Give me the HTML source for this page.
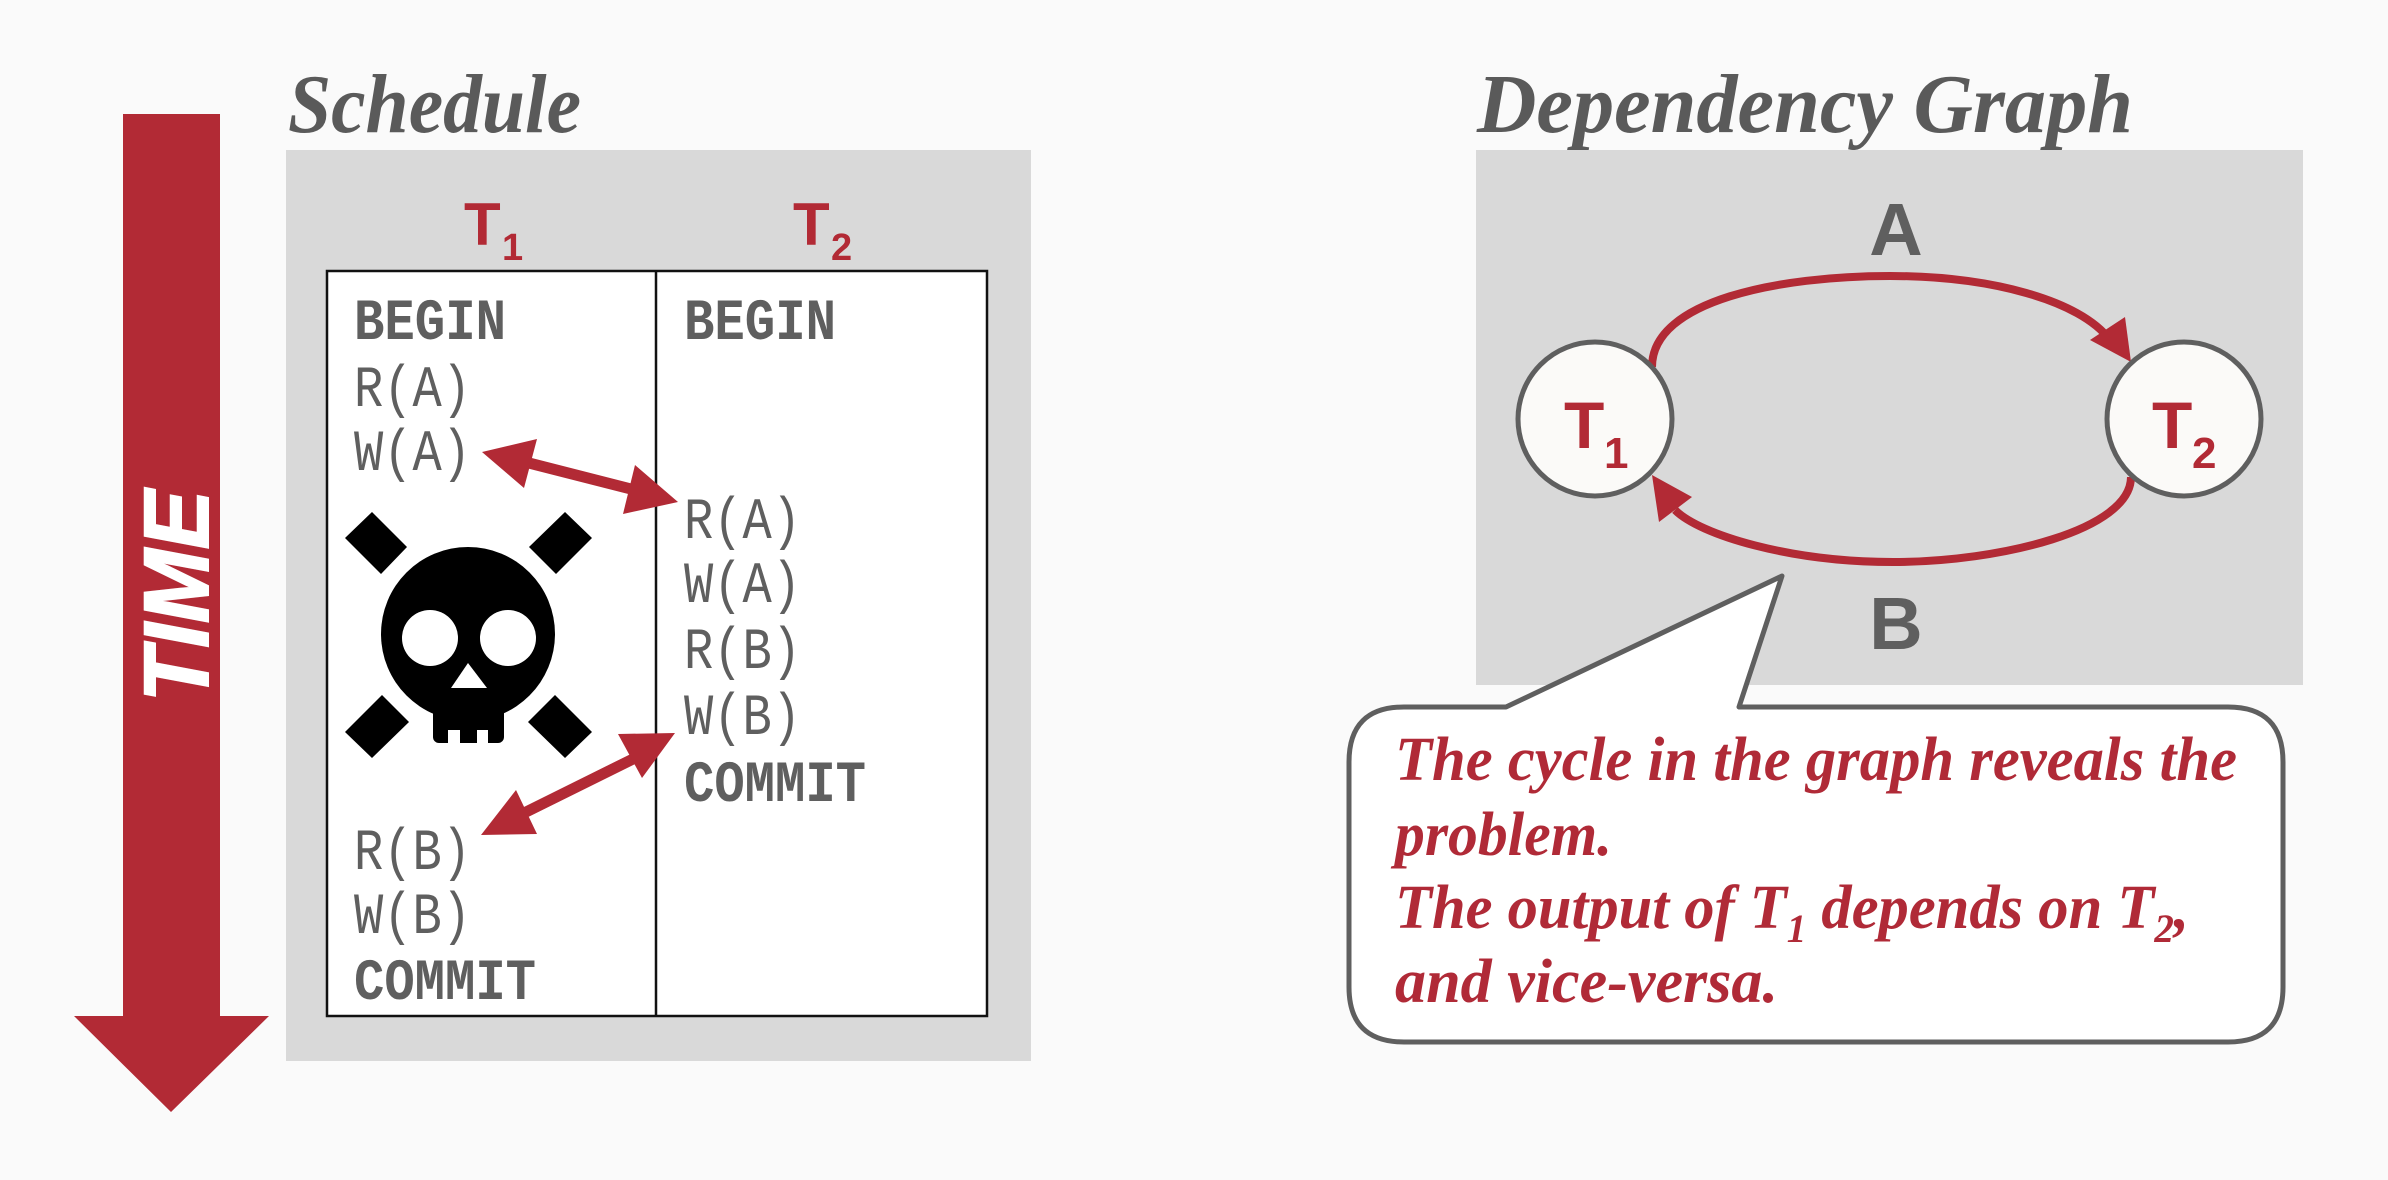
<!DOCTYPE html>
<html><head><meta charset="utf-8"><style>
html,body{margin:0;padding:0;background:#fafafa;}
svg{display:block;}
</style></head><body>
<svg width="2388" height="1180" viewBox="0 0 2388 1180" xmlns="http://www.w3.org/2000/svg">
<rect x="0" y="0" width="2388" height="1180" fill="#fafafa"/>
<!-- TIME arrow -->
<polygon points="123,114 220,114 220,1016 269,1016 171,1112 74,1016 123,1016" fill="#b22a35"/>
<text transform="translate(208,596) rotate(-90)" text-anchor="middle" font-family="Liberation Sans, sans-serif" font-weight="bold" font-style="italic" font-size="92" fill="#ffffff" stroke="#ffffff" stroke-width="2" textLength="212" lengthAdjust="spacingAndGlyphs">TIME</text>

<!-- Schedule -->
<text x="288" y="132" font-family="Liberation Serif, serif" font-weight="bold" font-style="italic" font-size="84" fill="#5a5a5a" textLength="293" lengthAdjust="spacingAndGlyphs">Schedule</text>
<rect x="286" y="150" width="745" height="911" fill="#d9d9d9"/>
<text x="464" y="245" font-family="Liberation Sans, sans-serif" font-weight="bold" font-size="60" fill="#b22a35">T</text>
<text x="502" y="260" font-family="Liberation Sans, sans-serif" font-weight="bold" font-size="38" fill="#b22a35">1</text>
<text x="793" y="245" font-family="Liberation Sans, sans-serif" font-weight="bold" font-size="60" fill="#b22a35">T</text>
<text x="831" y="260" font-family="Liberation Sans, sans-serif" font-weight="bold" font-size="38" fill="#b22a35">2</text>
<rect x="327" y="271" width="660" height="745" fill="#ffffff" stroke="#111" stroke-width="2.5"/>
<line x1="656" y1="271" x2="656" y2="1016" stroke="#111" stroke-width="2.5"/>

<g font-family="Liberation Mono, monospace" font-size="58" fill="#5f5f5f">
<text x="354" y="339" font-weight="bold" textLength="152" lengthAdjust="spacingAndGlyphs">BEGIN</text>
<text x="354" y="406" textLength="117" lengthAdjust="spacingAndGlyphs">R(A)</text>
<text x="354" y="470" textLength="117" lengthAdjust="spacingAndGlyphs">W(A)</text>
<text x="354" y="869" textLength="117" lengthAdjust="spacingAndGlyphs">R(B)</text>
<text x="354" y="933" textLength="117" lengthAdjust="spacingAndGlyphs">W(B)</text>
<text x="354" y="999" font-weight="bold" textLength="182" lengthAdjust="spacingAndGlyphs">COMMIT</text>
<text x="684" y="339" font-weight="bold" textLength="152" lengthAdjust="spacingAndGlyphs">BEGIN</text>
<text x="684" y="538" textLength="117" lengthAdjust="spacingAndGlyphs">R(A)</text>
<text x="684" y="602" textLength="117" lengthAdjust="spacingAndGlyphs">W(A)</text>
<text x="684" y="668" textLength="117" lengthAdjust="spacingAndGlyphs">R(B)</text>
<text x="684" y="734" textLength="117" lengthAdjust="spacingAndGlyphs">W(B)</text>
<text x="684" y="801" font-weight="bold" textLength="182" lengthAdjust="spacingAndGlyphs">COMMIT</text>
</g>

<!-- arrows in schedule -->
<line x1="525" y1="462" x2="635" y2="490" stroke="#b22a35" stroke-width="11"/>
<polygon points="482,452 537,439 524,488" fill="#b22a35"/>
<polygon points="678,502 635,465 623,514" fill="#b22a35"/>
<line x1="520" y1="815" x2="635" y2="758" stroke="#b22a35" stroke-width="11"/>
<polygon points="675,733 618,734 642,778" fill="#b22a35"/>
<polygon points="481,835 516,790 537,834" fill="#b22a35"/>

<!-- skull -->
<polygon points="372,512 407,547 381,574 345,538" fill="#000"/>
<polygon points="565,512 592,538 556,574 529,547" fill="#000"/>
<polygon points="382,695 409,722 372,758 345,732" fill="#000"/>
<polygon points="555,695 592,732 565,758 528,722" fill="#000"/>
<circle cx="468" cy="634" r="95" fill="#fff"/>
<rect x="433" y="690" width="71" height="53" rx="6" fill="#000"/>
<circle cx="468" cy="634" r="87" fill="#000"/>
<rect x="448" y="730" width="12" height="15" fill="#fff"/>
<rect x="477" y="730" width="11" height="15" fill="#fff"/>
<circle cx="430" cy="638" r="28" fill="#fff"/>
<circle cx="508" cy="638" r="28" fill="#fff"/>
<polygon points="468,663 451,688 487,688" fill="#fff"/>

<!-- Dependency graph -->
<text x="1477" y="132" font-family="Liberation Serif, serif" font-weight="bold" font-style="italic" font-size="84" fill="#5a5a5a" textLength="656" lengthAdjust="spacingAndGlyphs">Dependency Graph</text>
<rect x="1476" y="150" width="827" height="535" fill="#d9d9d9"/>
<text x="1896" y="255" text-anchor="middle" font-family="Liberation Sans, sans-serif" font-weight="bold" font-size="74" fill="#5f5f5f">A</text>
<text x="1896" y="649" text-anchor="middle" font-family="Liberation Sans, sans-serif" font-weight="bold" font-size="74" fill="#5f5f5f">B</text>
<path d="M1652,367 C1652,300 1780,276 1890,276 C1990,276 2080,300 2110,340" fill="none" stroke="#b22a35" stroke-width="8"/>
<polygon points="2131,362 2125,317 2090,340" fill="#b22a35"/>
<path d="M2131,477 C2131,530 2000,562 1893,562 C1790,562 1700,535 1675,510" fill="none" stroke="#b22a35" stroke-width="8"/>
<polygon points="1652,475 1692,497 1659,522" fill="#b22a35"/>
<ellipse cx="1595" cy="419" rx="77" ry="77" fill="#fbfaf8" stroke="#5f5f5f" stroke-width="5"/>
<ellipse cx="2184" cy="419" rx="77" ry="77" fill="#fbfaf8" stroke="#5f5f5f" stroke-width="5"/>
<text x="1564" y="448" font-family="Liberation Sans, sans-serif" font-weight="bold" font-size="66" fill="#b22a35">T</text>
<text x="1604" y="468" font-family="Liberation Sans, sans-serif" font-weight="bold" font-size="44" fill="#b22a35">1</text>
<text x="2152" y="448" font-family="Liberation Sans, sans-serif" font-weight="bold" font-size="66" fill="#b22a35">T</text>
<text x="2192" y="468" font-family="Liberation Sans, sans-serif" font-weight="bold" font-size="44" fill="#b22a35">2</text>

<!-- callout -->
<path d="M1404,707 L1506,707 L1782,576 L1739,707 L2228,707 Q2283,707 2283,762 L2283,987 Q2283,1042 2228,1042 L1404,1042 Q1349,1042 1349,987 L1349,762 Q1349,707 1404,707 Z" fill="#ffffff" stroke="#5f5f5f" stroke-width="5" stroke-linejoin="round"/>
<g font-family="Liberation Serif, serif" font-weight="bold" font-style="italic" font-size="62" fill="#b02a37">
<text x="1395" y="780" textLength="842" lengthAdjust="spacingAndGlyphs">The cycle in the graph reveals the</text>
<text x="1395" y="855" textLength="217" lengthAdjust="spacingAndGlyphs">problem.</text>
<text x="1395" y="928" textLength="794" lengthAdjust="spacingAndGlyphs">The output of T<tspan font-size="40" dy="14">1</tspan><tspan dy="-14"> depends on T</tspan><tspan font-size="40" dy="14">2</tspan><tspan dy="-14">,</tspan></text>
<text x="1395" y="1002" textLength="383" lengthAdjust="spacingAndGlyphs">and vice-versa.</text>
</g>
</svg>
</body></html>
